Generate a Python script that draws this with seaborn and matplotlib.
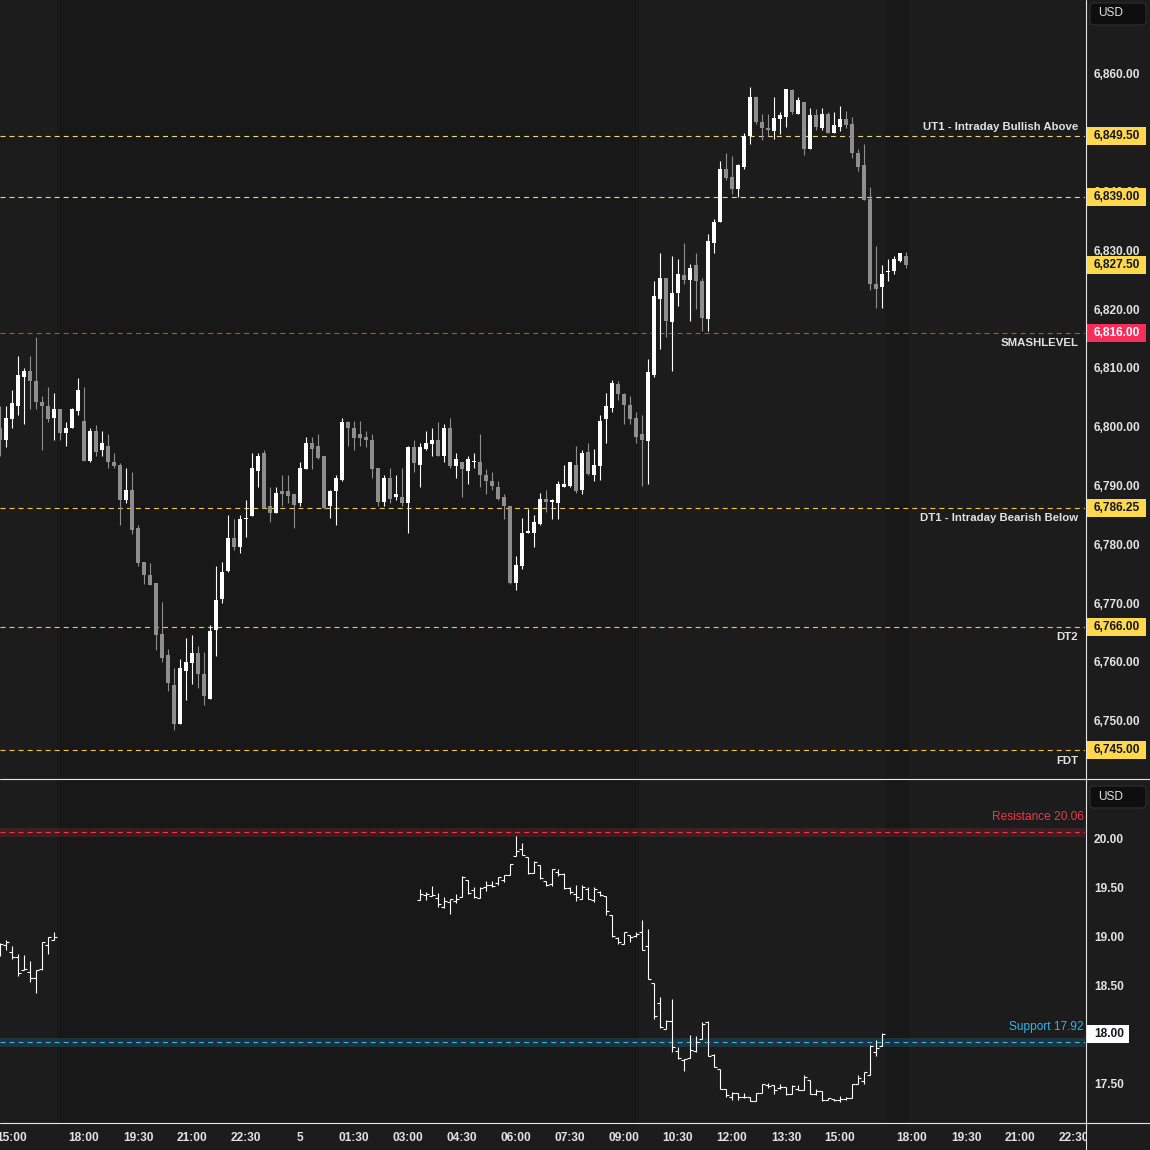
import numpy as np
import pandas as pd
import matplotlib
matplotlib.use("Agg")
import matplotlib.pyplot as plt
import matplotlib.transforms as mtransforms
from matplotlib.patches import Rectangle, FancyBboxPatch
from matplotlib.lines import Line2D
import seaborn as sns

# ---------------- data ----------------
# 10-minute bars; bar index 0 = 18:00 (session open), gap 17:00-18:00 removed
es_first_index = -14
es_open = [6799.75, 6797.75, 6801.25, 6803.5, 6808.5, 6809.5, 6807.75, 6804.25, 6803.5, 6801.5,
           6803, 6799, 6799.75, 6802.75, 6801, 6794.25, 6799.25, 6796, 6796.75, 6794,
           6793.5, 6787.5, 6789.25, 6782.75, 6777, 6774.75, 6773.5, 6764.75, 6761.25, 6756,
           6749.5, 6758.5, 6759.75, 6761.5, 6758, 6753.75, 6765.5, 6770.75, 6775.5, 6781,
           6779.5, 6784.25, 6784.75, 6792.5, 6795.5, 6786.5, 6785.25, 6789, 6789, 6788.5,
           6787, 6792.75, 6797.25, 6796.75, 6795, 6786.5, 6789, 6791, 6800.75, 6799.75,
           6798.75, 6798.25, 6797.75, 6793, 6787.25, 6791.25, 6788, 6788, 6787, 6796.5,
           6793.5, 6796.25, 6797, 6797.75, 6795, 6799.75, 6793.25, 6794, 6792.5, 6794,
           6794, 6791.75, 6790.75, 6789.75, 6788, 6786.5, 6773.5, 6776.25, 6782, 6782,
           6783.5, 6787.75, 6787.25, 6787, 6789.75, 6790, 6793.5, 6789.25, 6795.75, 6791.75,
           6793.25, 6801.25, 6803.25, 6807.25, 6805.5, 6803.75, 6801.5, 6798.75, 6797.5, 6808.75,
           6821.75, 6825.25, 6817.75, 6822.75, 6825.75, 6825, 6827.5, 6824.75, 6818.25, 6831.25,
           6834.75, 6843.75, 6842.5, 6840.5, 6844.25, 6849.5, 6856, 6851.75, 6850.75, 6850.25,
           6852.25, 6852.75, 6857.25, 6853.25, 6855.25, 6847.25, 6853, 6850.75, 6853.25, 6850,
           6851, 6852.25, 6851.5, 6846.5, 6844.5, 6838.75, 6824.25, 6823.75, 6826.25, 6826.5,
           6828.25, 6829]
es_high = [6803.5, 6803.5, 6806.25, 6812, 6810, 6812, 6815.25, 6805.25, 6806.75, 6805.75,
           6803, 6800.75, 6803.25, 6808.25, 6806.75, 6799.75, 6800.25, 6799.25, 6798.75, 6795.5,
           6793.75, 6793, 6792.25, 6783.25, 6777, 6776.75, 6773.5, 6770.25, 6762.25, 6759,
           6760.5, 6764, 6764.5, 6762.75, 6761.75, 6766.25, 6776.25, 6777, 6785, 6784.25,
           6785, 6787.5, 6795.5, 6795.5, 6796, 6789.75, 6789.75, 6791.75, 6791.75, 6788.5,
           6794, 6798.25, 6798.25, 6798.75, 6795, 6789.25, 6791.75, 6801.5, 6801, 6801,
           6801, 6799.25, 6798.75, 6793, 6791.75, 6793, 6791.75, 6793, 6796.75, 6797.75,
           6797.25, 6799.25, 6799.75, 6800.75, 6800.5, 6801.5, 6795.5, 6794, 6795, 6795.5,
           6798.75, 6792.75, 6792.25, 6790.75, 6788.5, 6786.5, 6778, 6784.5, 6786, 6785,
           6788.75, 6789.25, 6787.75, 6790.75, 6793.5, 6794, 6796.75, 6796, 6797.25, 6796.25,
           6802, 6805.75, 6808, 6807.75, 6805.75, 6805.25, 6802.5, 6802, 6811.5, 6824.75,
           6829.5, 6825.25, 6829, 6828.5, 6831.25, 6827.75, 6829.5, 6825.25, 6832.75, 6835.25,
           6845.25, 6846.5, 6846, 6844.75, 6850, 6857.75, 6856.25, 6853.25, 6853.25, 6856,
           6853.5, 6857.5, 6857.5, 6856, 6855.25, 6854.25, 6854, 6854.25, 6853.5, 6853.5,
           6854.5, 6853.75, 6852.75, 6847.25, 6848, 6840.75, 6830.75, 6827.5, 6828.5, 6829,
           6829.5, 6829.75]
es_low = [6795, 6796.5, 6799.75, 6802, 6800.5, 6803, 6803, 6796, 6800.75, 6797.75,
          6797.75, 6796.75, 6799.75, 6802, 6794.25, 6794, 6795, 6795, 6793, 6793,
          6783.25, 6787, 6781.75, 6776.25, 6773.25, 6773, 6762, 6760, 6755, 6748.5,
          6749.5, 6753.5, 6756.25, 6755.5, 6752.75, 6753.75, 6761, 6770, 6775.25, 6779,
          6778.5, 6781.25, 6784.75, 6789.75, 6786.25, 6783.75, 6785.25, 6786.5, 6787, 6782.75,
          6786.5, 6792.75, 6792.75, 6794.5, 6786, 6784.5, 6783.25, 6790.75, 6796.75, 6796,
          6796.75, 6796.5, 6791.25, 6786.5, 6786.5, 6787, 6787.5, 6786.5, 6782, 6792.25,
          6789.75, 6796, 6795, 6795, 6794, 6793, 6791.25, 6788, 6790.25, 6793,
          6789.75, 6788.5, 6789.25, 6787.5, 6784.25, 6773.25, 6772.25, 6775.75, 6782, 6779.5,
          6783.25, 6785.5, 6784.25, 6784.25, 6789.75, 6789.75, 6788.75, 6788.5, 6791.75, 6790.75,
          6791, 6797.25, 6802.5, 6804.5, 6800.5, 6800.5, 6797.25, 6790, 6790.25, 6808.5,
          6813.25, 6815.25, 6809.5, 6820.5, 6824.25, 6818, 6820, 6816.25, 6816.25, 6829.5,
          6834.75, 6842, 6839.5, 6839, 6843.75, 6848, 6851.5, 6848.75, 6849.5, 6849,
          6849.75, 6851, 6853.25, 6853.25, 6846.25, 6847.25, 6850.5, 6850.5, 6850, 6850,
          6850.25, 6850.75, 6845.75, 6843.5, 6838.5, 6823.25, 6820.25, 6820.25, 6824.75, 6826,
          6828, 6827]
es_close = [6797.75, 6801.5, 6804, 6808.75, 6809.5, 6807.75, 6804.25, 6803.5, 6801.25, 6803,
            6799, 6799.75, 6803, 6806.25, 6794.25, 6799.25, 6795.75, 6797.25, 6794, 6793.25,
            6787.5, 6789.25, 6782.5, 6776.75, 6774.75, 6773, 6764.5, 6760.75, 6756.5, 6749.5,
            6759, 6760, 6761.5, 6758, 6754.25, 6765.25, 6770.5, 6775.25, 6781, 6779.5,
            6784.25, 6784.5, 6793, 6795, 6786.25, 6785.25, 6788.75, 6788.5, 6788.25, 6786.75,
            6793, 6797.25, 6796.25, 6794.75, 6786.25, 6789, 6791.25, 6800.75, 6799.75, 6798,
            6798, 6797.75, 6792.75, 6787.25, 6791.25, 6787.75, 6788.5, 6787, 6796.5, 6793.75,
            6796.5, 6797.25, 6797.75, 6795, 6799.75, 6793.25, 6794.5, 6792.75, 6794.5, 6794.25,
            6791.75, 6790.75, 6790, 6787.75, 6786.5, 6773.5, 6776.5, 6782, 6782.25, 6783.75,
            6787.75, 6787.25, 6787.5, 6790.25, 6790.25, 6794, 6789, 6795.5, 6792, 6793.5,
            6801, 6803.5, 6807.5, 6805.5, 6803.75, 6801.25, 6798.25, 6797.75, 6809.25, 6822.25,
            6825.25, 6818, 6822.75, 6826, 6825, 6827, 6824.75, 6818.5, 6831.5, 6834.75,
            6843.75, 6842.25, 6840.5, 6844.5, 6849.5, 6856, 6851.75, 6850.75, 6850.5, 6852.5,
            6853, 6857.5, 6853.5, 6855.5, 6847.25, 6853, 6851, 6853.25, 6850, 6851.25,
            6852.25, 6851.25, 6846.5, 6844.25, 6838.5, 6824.25, 6823.5, 6826, 6826.5, 6828.5,
            6829.5, 6827.5]

# volatility index bars (two sessions)
vix_first_index_a = -14
vix_open_a = [18.85, 18.91, 18.84, 18.79, 18.66, 18.64, 18.58, 18.67, 18.91, 18.96]
vix_high_a = [18.93, 18.96, 18.90, 18.82, 18.81, 18.75, 18.66, 18.94, 18.99, 19.04]
vix_low_a = [18.80, 18.86, 18.77, 18.60, 18.66, 18.53, 18.42, 18.66, 18.82, 18.96]
vix_close_a = [18.92, 18.94, 18.79, 18.63, 18.67, 18.58, 18.66, 18.94, 18.99, 18.99]

vix_first_index_b = 56
vix_open_b = [19.37, 19.42, 19.41, 19.39, 19.30, 19.35, 19.36, 19.40, 19.57, 19.47,
              19.39, 19.50, 19.52, 19.54, 19.57, 19.62, 19.82, 19.89, 19.81, 19.65,
              19.73, 19.56, 19.53, 19.66, 19.64, 19.49, 19.43, 19.38, 19.48, 19.37,
              19.45, 19.41, 19.22, 18.98, 18.92, 19.01, 19.00, 19.04, 18.90, 18.52,
              18.32, 18.06, 18.14, 17.83, 17.74, 17.76, 17.83, 17.95, 18.13, 17.79,
              17.65, 17.44, 17.36, 17.40, 17.36, 17.36, 17.32, 17.40, 17.48, 17.49,
              17.45, 17.46, 17.39, 17.44, 17.43, 17.54, 17.39, 17.42, 17.33, 17.34,
              17.33, 17.34, 17.35, 17.50, 17.53, 17.59, 17.82, 17.88]
vix_high_b = [19.48, 19.45, 19.51, 19.44, 19.40, 19.38, 19.43, 19.61, 19.57, 19.50,
              19.50, 19.56, 19.56, 19.60, 19.62, 19.74, 20.02, 19.95, 19.81, 19.77,
              19.73, 19.56, 19.69, 19.69, 19.65, 19.50, 19.52, 19.52, 19.50, 19.50,
              19.46, 19.41, 19.22, 18.99, 19.04, 19.01, 19.04, 19.17, 19.07, 18.52,
              18.38, 18.15, 18.36, 17.87, 17.75, 17.99, 17.98, 18.13, 18.14, 17.80,
              17.65, 17.44, 17.41, 17.40, 17.40, 17.36, 17.40, 17.50, 17.51, 17.49,
              17.50, 17.46, 17.48, 17.48, 17.59, 17.54, 17.44, 17.42, 17.35, 17.34,
              17.37, 17.36, 17.50, 17.59, 17.62, 17.89, 17.94, 18.01]
vix_low_b = [19.37, 19.37, 19.41, 19.30, 19.29, 19.23, 19.34, 19.40, 19.43, 19.39,
             19.39, 19.46, 19.50, 19.52, 19.55, 19.62, 19.82, 19.83, 19.64, 19.65,
             19.58, 19.51, 19.51, 19.61, 19.48, 19.43, 19.36, 19.38, 19.38, 19.35,
             19.41, 19.22, 18.99, 18.92, 18.92, 18.94, 18.99, 18.86, 18.57, 18.16,
             18.07, 18.06, 17.82, 17.75, 17.63, 17.76, 17.82, 17.95, 17.78, 17.67,
             17.44, 17.36, 17.33, 17.33, 17.35, 17.32, 17.32, 17.40, 17.45, 17.39,
             17.44, 17.38, 17.39, 17.43, 17.43, 17.39, 17.38, 17.32, 17.33, 17.32,
             17.31, 17.33, 17.35, 17.50, 17.50, 17.59, 17.78, 17.88]
vix_close_b = [19.43, 19.43, 19.42, 19.33, 19.36, 19.38, 19.38, 19.60, 19.44, 19.40,
               19.49, 19.52, 19.51, 19.60, 19.62, 19.74, 19.87, 19.83, 19.65, 19.76,
               19.59, 19.52, 19.69, 19.64, 19.49, 19.45, 19.40, 19.50, 19.38, 19.48,
               19.42, 19.26, 19.00, 18.94, 19.04, 18.99, 19.02, 18.86, 18.57, 18.19,
               18.08, 18.14, 17.87, 17.76, 17.75, 17.84, 17.92, 18.11, 17.78, 17.67,
               17.44, 17.38, 17.40, 17.36, 17.36, 17.32, 17.40, 17.50, 17.47, 17.43,
               17.46, 17.39, 17.47, 17.43, 17.57, 17.39, 17.42, 17.33, 17.35, 17.33,
               17.34, 17.35, 17.50, 17.56, 17.62, 17.88, 17.86, 18.00]

level_values = [6849.50, 6839.00, 6816.00, 6786.25, 6766.00, 6745.00]
level_names = ["UT1 - Intraday Bullish Above", "", "SMASHLEVEL",
               "DT1 - Intraday Bearish Below", "DT2", "FDT"]
level_label_side = ["above", "", "below", "below", "below", "below"]
resistance_value = 20.06
support_value = 17.92

time_tick_index = [-12, 0, 9, 18, 27, 36, 45, 54, 63, 72, 81, 90, 99, 108, 117, 126,
                   138, 147, 156, 165]
time_tick_labels = ["15:00", "18:00", "19:30", "21:00", "22:30", "5", "01:30", "03:00",
                    "04:30", "06:00", "07:30", "09:00", "10:30", "12:00", "13:30", "15:00",
                    "18:00", "19:30", "21:00", "22:30"]
price_ticks = [6750, 6760, 6770, 6780, 6790, 6800, 6810, 6820, 6830, 6840, 6850, 6860]
vix_ticks = [17.5, 18.0, 18.5, 19.0, 19.5, 20.0]
# extended-hours (darker) background spans, in bar-index units
eth_spans = [(-4.5, 92.5), (133.5, 137.5)]

# ---------------- style ----------------
BASE = "#1c1c1c"
ETH = "#181818"
TXT = "#e2e2e2"
UP = "#ffffff"
DOWN = "#8e8e8e"
YEL = "#ffd84d"
RED = "#f72d5c"
W, H = 1150, 1150

sns.set_theme(style="dark", rc={
    "axes.facecolor": BASE, "figure.facecolor": BASE, "savefig.facecolor": BASE,
    "axes.edgecolor": BASE, "text.color": TXT, "xtick.color": TXT, "ytick.color": TXT,
    "axes.grid": False, "lines.scale_dashes": False})
plt.rcParams["font.family"] = ["Liberation Sans", "DejaVu Sans"]
FS = 8.6
FS_NAME = 8.2
WT = "bold"
DASH = (0, (3.6, 2.9))

fig = plt.figure(figsize=(W / 100, H / 100), dpi=100)
AX_W = 1085
ax = fig.add_axes([0, (H - 778) / H, AX_W / W, 778 / H])
axb = fig.add_axes([0, (H - 1122) / H, AX_W / W, (1122 - 779) / H])

XMIN, XMAX = -14.0, (AX_W - 84) / 6.0
for a in (ax, axb):
    a.set_xlim(XMIN, XMAX)
    for s in a.spines.values():
        s.set_visible(False)
    for x0, x1 in eth_spans:
        a.axvspan(x0, x1, color=ETH, lw=0, zorder=0)

ax.set_ylim(6740.26, 6872.57)
axb.set_ylim(17.108, 20.603)
top_ppu = 778 / (6872.57 - 6740.26)
bot_ppu = 343 / (20.603 - 17.108)

# ---------------- candles ----------------
es = pd.DataFrame({"open": es_open, "high": es_high, "low": es_low, "close": es_close})
es["idx"] = np.arange(len(es)) + es_first_index
up = es["close"] >= es["open"]
cols = np.where(up, UP, DOWN)
ax.vlines(es["idx"], es["low"], es["high"], colors=cols, linewidth=0.8, zorder=3)
body_bot = np.minimum(es["open"], es["close"])
body_h = np.maximum((es["close"] - es["open"]).abs(), 0.2)
ax.bar(es["idx"], body_h, bottom=body_bot, width=0.82, color=cols, linewidth=0, zorder=4)

# ---------------- OHLC bars ----------------
def ohlc(a, first, o, h, l, c):
    idx = np.arange(len(o)) + first
    a.vlines(idx, l, h, colors="white", linewidth=0.8, zorder=3)
    a.hlines(o, idx - 0.5, idx, colors="white", linewidth=0.8, zorder=3)
    a.hlines(c, idx, idx + 0.5, colors="white", linewidth=0.8, zorder=3)

ohlc(axb, vix_first_index_a, vix_open_a, vix_high_a, vix_low_a, vix_close_a)
ohlc(axb, vix_first_index_b, vix_open_b, vix_high_b, vix_low_b, vix_close_b)

# ---------------- axes ticks ----------------
ax.set_xticks([])
ax.yaxis.tick_right()
ax.set_yticks(price_ticks)
ax.set_yticklabels([f"{v:,.2f}" for v in price_ticks], fontweight=WT)
ax.tick_params(axis="y", length=0, pad=6.5, labelsize=FS, labelcolor=TXT)

axb.yaxis.tick_right()
axb.set_yticks(vix_ticks)
axb.set_yticklabels([f"{v:.2f}" for v in vix_ticks], fontweight=WT)
axb.tick_params(axis="y", length=0, pad=6.5, labelsize=FS, labelcolor=TXT)
axb.set_xticks(time_tick_index)
axb.set_xticklabels(time_tick_labels, fontweight=WT)
axb.tick_params(axis="x", length=0, pad=7, labelsize=FS, labelcolor=TXT)

# ---------------- level lines ----------------
trT = mtransforms.blended_transform_factory(ax.transAxes, ax.transData)
trB = mtransforms.blended_transform_factory(axb.transAxes, axb.transData)

def value_box(a, tr, y, text, fc, tc, ppu, right_px=1146):
    hh = 9 / ppu
    a.add_patch(Rectangle((1086 / AX_W, y - hh), (right_px - 1086) / AX_W, 2 * hh,
                          transform=tr, facecolor=fc, edgecolor="none",
                          clip_on=False, zorder=8))
    a.text(1094 / AX_W, y, text, transform=tr, ha="left", va="center",
           fontsize=FS, color=tc, fontweight=WT, clip_on=False, zorder=9)

for v, name, side in zip(level_values, level_names, level_label_side):
    is_smash = name == "SMASHLEVEL"
    if is_smash:
        lc = "#d8365a"
    elif v > 6830:
        lc = "#eed67a"
    else:
        lc = "#f5c842"
    ax.axhline(v, color=lc, lw=0.8, ls=DASH, zorder=2)
    value_box(ax, trT, v, f"{v:,.2f}", RED if is_smash else YEL,
              "white" if is_smash else "#131722", top_ppu)
    if name:
        dy = 9 if side == "above" else -10.5
        ax.annotate(name, xy=(1078 / AX_W, v), xycoords=trT, xytext=(0, dy),
                    textcoords="offset pixels", ha="right", va="center",
                    fontsize=FS_NAME, fontweight=WT, color=TXT, zorder=6)

# last price box
value_box(ax, trT, es_close[-1], f"{es_close[-1]:,.2f}", YEL, "#131722", top_ppu)

# resistance / support
for v, c, lab in [(resistance_value, "#f23645", f"Resistance {resistance_value:.2f}"),
                  (support_value, "#2bb6f3", f"Support {support_value:.2f}")]:
    axb.axhspan(v - 0.045, v + 0.045, color=c, alpha=0.16, lw=0, zorder=1)
    axb.axhline(v, color=c, lw=0.8, ls=DASH, zorder=2)
    axb.annotate(lab, xy=(1084 / AX_W, v), xycoords=trB, xytext=(0, 15),
                 textcoords="offset pixels", ha="right", va="center",
                 fontsize=FS, color=c, zorder=6)

value_box(axb, trB, vix_close_b[-1], f"{vix_close_b[-1]:.2f}", "white", "#131722",
          bot_ppu, right_px=1129)

# ---------------- frame / overlay ----------------
ident = mtransforms.IdentityTransform()
# cover for time labels running into the price scale
fig.add_artist(Rectangle((1086, 0), 64, H - 1123, transform=ident,
                         facecolor=BASE, edgecolor="none", zorder=5))
for ytop in (2, 785):
    fig.add_artist(FancyBboxPatch((1090, H - ytop - 23), 56, 22,
                                  boxstyle="round,pad=0,rounding_size=4",
                                  transform=ident, facecolor="#0e0e0e",
                                  edgecolor="#2f2f2f", lw=0.8, zorder=6))
    fig.text(1098 / W, 1 - (ytop + 11.5) / H, "USD", ha="left", va="center",
             fontsize=FS, color=TXT, zorder=7)

line_kw = dict(color="#e6e6e6", lw=0.8, zorder=10)
fig.add_artist(Line2D([1085.5 / W] * 2, [0, 1], transform=fig.transFigure, **line_kw))
fig.add_artist(Line2D([0, 1], [1 - 778.5 / H] * 2, transform=fig.transFigure, **line_kw))
fig.add_artist(Line2D([0, 1], [1 - 1122.5 / H] * 2, transform=fig.transFigure, **line_kw))

fig.savefig("out.png", dpi=100)
